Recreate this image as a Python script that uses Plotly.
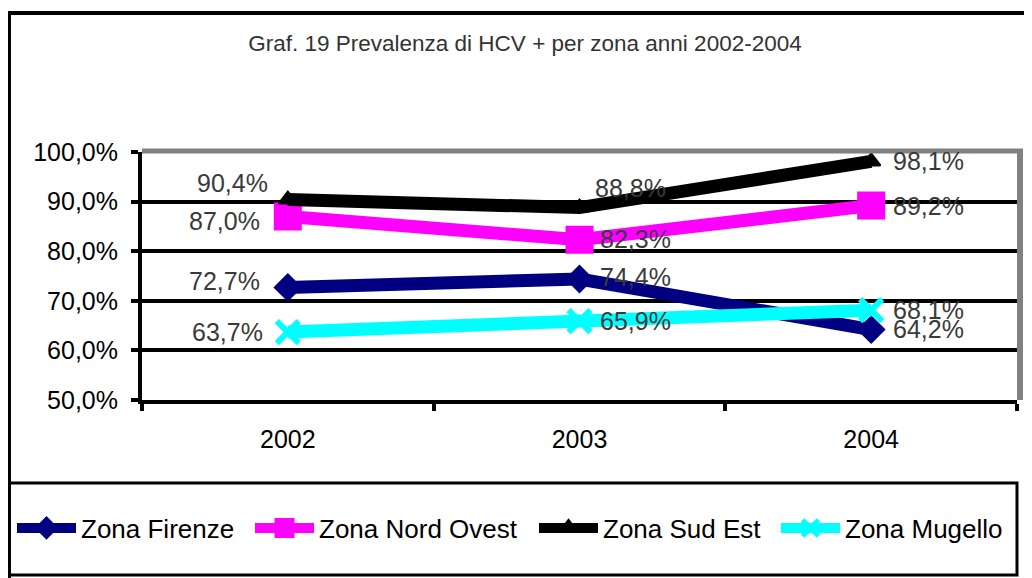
import plotly.graph_objects as go

years = ["2002", "2003", "2004"]
series_names = ["Zona Firenze", "Zona Nord Ovest", "Zona Sud Est", "Zona Mugello"]
firenze = [72.7, 74.4, 64.2]
nord_ovest = [87.0, 82.3, 89.2]
sud_est = [90.4, 88.8, 98.1]
mugello = [63.7, 65.9, 68.1]
y_tickvals = [50, 60, 70, 80, 90, 100]
y_ticktext = ["50,0%", "60,0%", "70,0%", "80,0%", "90,0%", "100,0%"]
title_text = "Graf. 19 Prevalenza di HCV + per zona anni 2002-2004"

# styles
colors = ["#000080", "#FF00FF", "#000000", "#00FFFF"]
symbols = ["diamond", "square", "triangle-up", "x-thin"]
msizes = [20, 24, 16, 22]
mlines = [2, 4, 2, 6]
legend_widths = [164, 210, 168, 157]
# label placement per point: (xanchor, xshift, yshift)
label_pos = [
    [("right", -26, 6), ("left", 18, 2), ("left", 20, 1)],
    [("right", -26, -5), ("left", 18, 1), ("left", 20, 0)],
    [("right", -18, 17), ("left", 13, 20), ("left", 20, 0)],
    [("right", -23, 0), ("left", 18, 0), ("left", 20, 0)],
]

def fmt(v):
    return f"{v:.1f}".replace(".", ",") + "%"

W, H = 1032, 578
OX, OY = 8, 8  # page body offset
L, R, T, B = 134, 23, 144, 186
pw, ph = W - L - R, H - T - B

def px(xs):
    return (xs - OX - L) / pw

def py(ys):
    return (H - B - (ys - OY)) / ph

fig = go.Figure()
annotations = []
for name, vals, c, s, ms, ml, lp, lw in zip(series_names, [firenze, nord_ovest, sud_est, mugello],
                                            colors, symbols, msizes, mlines, label_pos, legend_widths):
    fig.add_trace(go.Scatter(
        x=years, y=vals, name=name, mode="lines+markers",
        line=dict(color=c, width=13),
        marker=dict(symbol=s, size=ms, color=c, line=dict(color=c, width=ml)),
        cliponaxis=False, legendwidth=lw,
    ))
    for i, (yv, (xa, xs, ys)) in enumerate(zip(vals, lp)):
        annotations.append(dict(
            x=i, y=yv, xref="x", yref="y", text=fmt(yv), showarrow=False,
            xanchor=xa, yanchor="middle", xshift=xs, yshift=ys,
            font=dict(family="Liberation Sans, Arial", size=25, color="#3a3a3a"),
        ))

shapes = [
    dict(type="rect", xref="paper", yref="paper", x0=px(9), x1=px(1050), y0=py(600), y1=py(13),
         line=dict(color="black", width=4), layer="below"),
    dict(type="rect", xref="paper", yref="paper", x0=px(9), x1=px(1017), y0=py(575), y1=py(483),
         line=dict(color="black", width=3), layer="below"),
    dict(type="line", xref="paper", yref="paper", x0=0, x1=px(1023), y0=py(151), y1=py(151),
         line=dict(color="#808080", width=5)),
    dict(type="line", xref="paper", yref="paper", x0=px(1020), x1=px(1020), y0=0, y1=py(151),
         line=dict(color="#808080", width=6)),
]

fig.update_layout(
    width=W, height=H,
    margin=dict(l=L, r=R, t=T, b=B, autoexpand=False),
    paper_bgcolor="white", plot_bgcolor="white",
    title=dict(text=title_text, x=(525 - OX) / W, xanchor="center", y=1 - (43 - OY) / H,
               yanchor="middle",
               font=dict(family="Liberation Sans, Arial", size=22.5, color="#333333")),
    showlegend=True,
    legend=dict(orientation="h", x=px(12), xanchor="left", y=py(528), yanchor="middle",
                font=dict(family="Liberation Sans, Arial", size=26, color="black"),
                itemwidth=59, bgcolor="rgba(0,0,0,0)", tracegroupgap=0),
    shapes=shapes,
    annotations=annotations,
)
fig.update_xaxes(type="category", range=[-0.5, 2.5], showline=True, linecolor="black", linewidth=4,
                 ticks="outside", tickson="boundaries", ticklen=7, tickwidth=4, tickcolor="black",
                 showgrid=False, ticklabelstandoff=14, automargin=False,
                 tickfont=dict(family="Liberation Sans, Arial", size=25, color="black"))
fig.update_yaxes(range=[50, 100], tickvals=y_tickvals, ticktext=y_ticktext,
                 showline=True, linecolor="black", linewidth=4,
                 ticks="outside", ticklen=7, tickwidth=4, tickcolor="black",
                 showgrid=True, gridcolor="black", gridwidth=4, zeroline=False,
                 ticklabelstandoff=8, automargin=False,
                 tickfont=dict(family="Liberation Sans, Arial", size=25, color="black"))

fig.write_html("out.html")
